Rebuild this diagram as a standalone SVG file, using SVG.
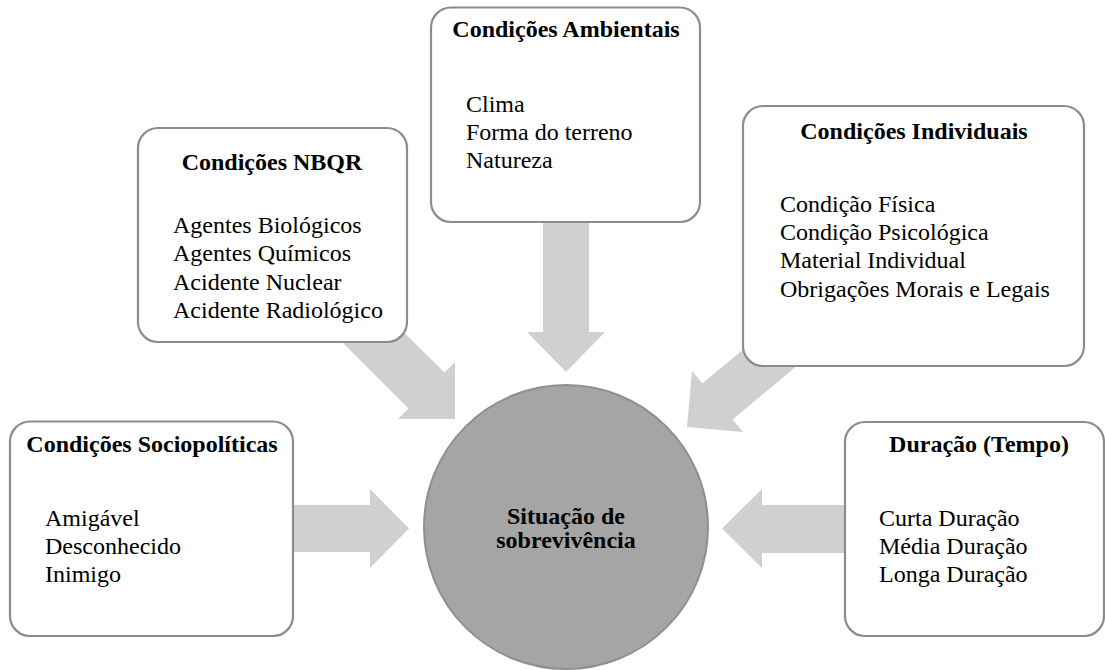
<svg xmlns="http://www.w3.org/2000/svg" width="1105" height="670" viewBox="0 0 1105 670">
  <style>
    .box { fill: #ffffff; stroke: #8c8c8c; stroke-width: 2.2; }
    .arrow { fill: #d0d0d0; stroke: none; }
    .hub { fill: #a5a5a5; stroke: #8f8f8f; stroke-width: 2; }
    .title { font-family: "Liberation Serif", "Times New Roman", serif; font-size: 24px; font-weight: bold; fill: #000; text-anchor: middle; }
    .item { font-family: "Liberation Serif", "Times New Roman", serif; font-size: 24px; fill: #000; }
  </style>
  <rect width="1105" height="670" fill="#ffffff"/>

  <g id="connectors">
    <!-- Sociopolíticas -> hub -->
    <polygon class="arrow" points="280,505 370,505 370,489 409,528.5 370,568 370,552 280,552"/>
    <!-- NBQR -> hub -->
    <polygon class="arrow" points="365.5,294.5 444.5,372.5 455,362 455,419 398,419 408.5,408.5 330,330"/>
    <!-- Ambientais -> hub -->
    <polygon class="arrow" points="543,210 589,210 589,332 605,332 566,372 527,332 543,332"/>
    <!-- Individuais -> hub -->
    <polygon class="arrow" points="794.4,306.5 702.4,383.5 692,371 687,427 743,432 732.6,419.5 824.6,342.5"/>
    <!-- Duração -> hub -->
    <polygon class="arrow" points="860,505 762,505 762,489 722,528.5 762,568 762,553 860,553"/>
  </g>

  <g id="node-hub">
    <circle class="hub" cx="566" cy="527" r="142"/>
    <text class="title" x="566" y="524">Situação de</text>
    <text class="title" x="566" y="548">sobrevivência</text>
  </g>

  <g id="node-sociopoliticas">
    <rect class="box" x="10" y="421.5" width="283" height="214.5" rx="20" ry="20"/>
    <text class="title" x="152" y="452">Condições Sociopolíticas</text>
    <text class="item" x="45" y="526">Amigável</text>
    <text class="item" x="45" y="554">Desconhecido</text>
    <text class="item" x="45" y="582">Inimigo</text>
  </g>

  <g id="node-nbqr">
    <rect class="box" x="138" y="128" width="269" height="214" rx="20" ry="20"/>
    <text class="title" x="272" y="170">Condições NBQR</text>
    <text class="item" x="173" y="233">Agentes Biológicos</text>
    <text class="item" x="173" y="261.3">Agentes Químicos</text>
    <text class="item" x="173" y="289.6">Acidente Nuclear</text>
    <text class="item" x="173" y="318">Acidente Radiológico</text>
  </g>

  <g id="node-ambientais">
    <rect class="box" x="431" y="7.5" width="269" height="214.5" rx="20" ry="20"/>
    <text class="title" x="566" y="37">Condições Ambientais</text>
    <text class="item" x="466" y="112">Clima</text>
    <text class="item" x="466" y="140">Forma do terreno</text>
    <text class="item" x="466" y="168">Natureza</text>
  </g>

  <g id="node-individuais">
    <rect class="box" x="743" y="106" width="341" height="260" rx="20" ry="20"/>
    <text class="title" x="914" y="139">Condições Individuais</text>
    <text class="item" x="780" y="212">Condição Física</text>
    <text class="item" x="780" y="240">Condição Psicológica</text>
    <text class="item" x="780" y="268">Material Individual</text>
    <text class="item" x="780" y="297">Obrigações Morais e Legais</text>
  </g>

  <g id="node-duracao">
    <rect class="box" x="845" y="422" width="259" height="214" rx="20" ry="20"/>
    <text class="title" x="979" y="452">Duração (Tempo)</text>
    <text class="item" x="879" y="526">Curta Duração</text>
    <text class="item" x="879" y="554">Média Duração</text>
    <text class="item" x="879" y="582">Longa Duração</text>
  </g>
</svg>
